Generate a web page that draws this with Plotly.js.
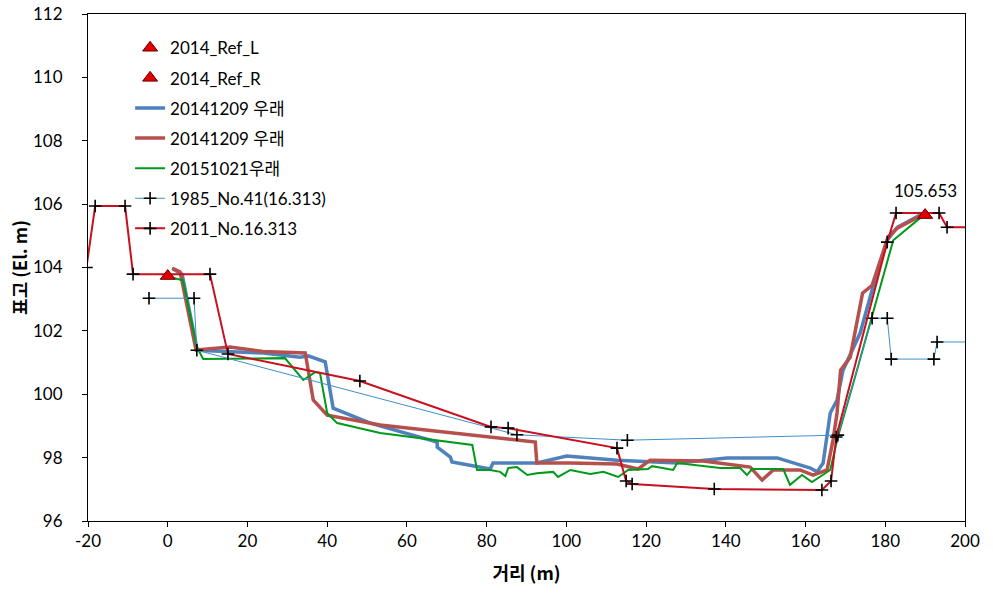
<!DOCTYPE html>
<html>
<head>
<meta charset="utf-8">
<script src="https://cdn.plot.ly/plotly-3.0.1.min.js"></script>
<style>html,body{margin:0;padding:0;background:#fff;}#chart{width:993px;height:594px;}</style>
</head>
<body>
<div id="chart"></div>
<script>
// ---- data ----
const refLX = [0.0];
const refLY = [103.73];
const refRX = [190.0];
const refRY = [105.653];

const blue2014X = [1.3, 3.6, 7.4, 14.9, 23.9, 33.2, 35.2, 39.5, 41.5, 50.8, 67.6, 67.6, 70.9, 71.3, 80.9, 81.6, 92.6, 100.1, 112.7, 127.8, 140.3, 152.9, 161.2, 162.9, 164.4, 166.2, 167.9, 169.4, 173.7, 176.7, 180.5, 183.0, 188.7, 189.7];
const blue2014Y = [103.95, 103.79, 101.39, 101.36, 101.30, 101.17, 101.21, 101.02, 99.56, 99.09, 98.49, 98.33, 98.02, 97.86, 97.64, 97.83, 97.83, 98.05, 97.92, 97.83, 97.99, 97.99, 97.67, 97.55, 97.83, 99.41, 99.82, 100.76, 101.93, 103.29, 104.86, 105.27, 105.65, 105.68];

const red2014X = [1.1, 3.1, 7.1, 15.6, 23.9, 34.5, 36.5, 40.0, 53.3, 92.2, 92.6, 101.0, 112.7, 118.0, 121.0, 134.3, 146.1, 149.1, 151.9, 158.6, 161.9, 165.4, 166.9, 167.9, 168.8, 171.2, 174.3, 176.7, 180.7, 183.0, 188.2, 189.2];
const red2014Y = [103.98, 103.86, 101.40, 101.49, 101.35, 101.30, 99.82, 99.34, 99.03, 98.49, 97.83, 97.83, 97.80, 97.64, 97.92, 97.89, 97.70, 97.29, 97.61, 97.61, 97.45, 97.61, 98.56, 99.41, 100.76, 101.17, 103.19, 103.44, 104.96, 105.24, 105.59, 105.65];

const green2015X = [1.3, 3.8, 7.3, 8.9, 29.4, 34.0, 37.0, 38.2, 40.0, 42.5, 53.3, 76.4, 77.6, 80.9, 83.4, 84.7, 85.4, 87.6, 90.2, 92.6, 96.7, 97.9, 101.0, 106.0, 109.3, 113.0, 115.5, 120.5, 121.5, 126.8, 127.8, 138.6, 143.6, 145.3, 146.6, 154.4, 156.1, 159.1, 161.6, 166.2, 168.1, 172.9, 182.0, 184.5, 188.0, 189.0];
const green2015Y = [103.67, 103.60, 101.49, 101.11, 101.14, 100.45, 100.70, 100.67, 99.41, 99.09, 98.78, 98.40, 97.61, 97.61, 97.55, 97.42, 97.67, 97.70, 97.45, 97.51, 97.55, 97.39, 97.61, 97.48, 97.55, 97.39, 97.61, 97.64, 97.73, 97.61, 97.83, 97.67, 97.67, 97.45, 97.64, 97.64, 97.14, 97.45, 97.23, 97.61, 98.65, 100.76, 104.86, 105.12, 105.50, 105.59];

const s1985X = [-4.7, 6.6, 7.3, 87.6, 115.3, 168.1, 176.7, 180.5, 181.5, 192.2, 193.0, 202.0];
const s1985Y = [103.03, 103.03, 101.39, 98.72, 98.55, 98.71, 102.40, 102.40, 101.11, 101.11, 101.65, 101.65];

const s2011X = [-20.4, -18.2, -10.7, -8.7, 10.6, 15.1, 48.2, 81.1, 85.4, 112.7, 115.0, 116.5, 137.1, 164.1, 166.4, 167.7, 180.5, 182.7, 193.5, 195.5, 202.0];
const s2011Y = [104.0, 105.94, 105.94, 103.79, 103.79, 101.27, 100.42, 98.97, 98.93, 98.30, 97.26, 97.17, 97.01, 96.98, 97.26, 98.65, 104.80, 105.72, 105.72, 105.27, 105.27];

const names = ['2014_Ref_L', '2014_Ref_R', '20141209 우래', '20141209 우래', '20151021우래', '1985_No.41(16.313)', '2011_No.16.313'];
const xTicks = [-20, 0, 20, 40, 60, 80, 100, 120, 140, 160, 180, 200];
const yTicks = [96, 98, 100, 102, 104, 106, 108, 110, 112];

const crossMarker = {symbol: 'cross-thin', size: 9, line: {color: '#000', width: 1.6}, color: '#000'};

const traces = [
  {x: blue2014X, y: blue2014Y, name: names[2], mode: 'lines', line: {color: '#4f81bd', width: 3.5}, legendrank: 3, legendgroup: 'g3'},
  {x: red2014X, y: red2014Y, name: names[3], mode: 'lines', line: {color: '#b5504d', width: 3.5}, legendrank: 4, legendgroup: 'g4'},
  {x: green2015X, y: green2015Y, name: names[4], mode: 'lines', line: {color: '#009a1a', width: 2}, legendrank: 5, legendgroup: 'g5'},
  {x: s1985X, y: s1985Y, name: names[5], mode: 'lines+markers', line: {color: '#3f8fc8', width: 1}, marker: crossMarker, legendrank: 6, legendgroup: 'g6'},
  {x: s2011X, y: s2011Y, name: names[6], mode: 'lines+markers', line: {color: '#c8101e', width: 2}, marker: crossMarker, legendrank: 7, legendgroup: 'g7'},
  {x: refLX, y: refLY, name: names[0], mode: 'markers', marker: {symbol: 'triangle-up', size: 13, color: '#e00000', line: {color: '#700000', width: 1}}, legendrank: 1, legendgroup: 'g1'},
  {x: refRX, y: refRY, name: names[1], mode: 'markers', marker: {symbol: 'triangle-up', size: 13, color: '#e00000', line: {color: '#700000', width: 1}}, legendrank: 2, legendgroup: 'g2'}
];

const baseFont = 'Lato, "Noto Sans CJK KR", sans-serif';

const layout = {
  width: 993, height: 594,
  margin: {l: 88, r: 28, t: 14, b: 73},
  paper_bgcolor: '#fff', plot_bgcolor: '#fff',
  font: {family: baseFont, size: 16, color: '#000'},
  showlegend: true,
  legend: {x: 0.048, y: 0.968, xanchor: 'left', yanchor: 'top', bgcolor: 'rgba(0,0,0,0)', font: {size: 17, family: baseFont}, tracegroupgap: 5},
  xaxis: {
    range: [-20, 200], tickvals: xTicks, ticktext: xTicks.map(String),
    showgrid: false, zeroline: false, showline: true, linecolor: '#000', linewidth: 1, mirror: true,
    ticks: 'outside', ticklen: 5, tickcolor: '#000', tickfont: {size: 17},
    title: {text: '<b>거리 (m)</b>', font: {size: 18, family: '"Noto Sans CJK KR", sans-serif'}, standoff: 16}
  },
  yaxis: {
    range: [96, 112], tickvals: yTicks, ticktext: yTicks.map(String),
    showgrid: false, zeroline: false, showline: true, linecolor: '#000', linewidth: 1, mirror: true,
    ticks: 'outside', ticklen: 5, tickcolor: '#000', tickfont: {size: 17}, ticklabelstandoff: 16,
    title: {text: '<b>표고 (El. m)</b>', font: {size: 18, family: '"Noto Sans CJK KR", sans-serif'}, standoff: 0}
  },
  annotations: [{x: refRX[0], y: refRY[0], text: refRY[0].toFixed(3), showarrow: false, yshift: 25, font: {size: 17, family: baseFont}}]
};

Plotly.newPlot('chart', traces, layout, {displayModeBar: false, staticPlot: true});
</script>
</body>
</html>
